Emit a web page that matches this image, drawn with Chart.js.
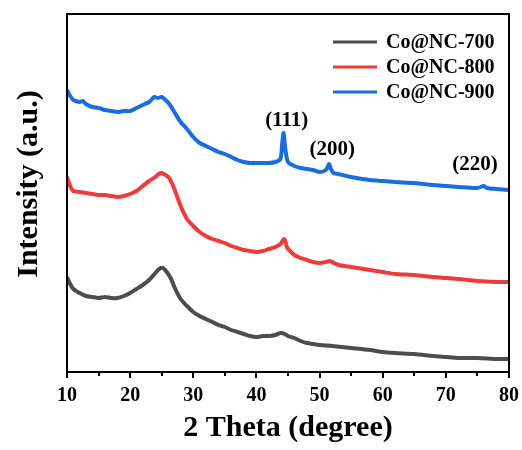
<!DOCTYPE html>
<html>
<head>
<meta charset="utf-8">
<script src="https://cdn.jsdelivr.net/npm/chart.js@4.4.0/dist/chart.umd.min.js"></script>
<style>
  html, body { margin: 0; padding: 0; background: #fff; }
  #wrap { width: 522px; height: 450px; position: relative; }
</style>
</head>
<body>
<div id="wrap"><canvas id="xrd" width="522" height="450"></canvas></div>
<script>
// Data (2 theta, intensity in a.u., curves stacked with offsets)
const seriesNames = ['Co@NC-700', 'Co@NC-800', 'Co@NC-900'];
const seriesColors = ['#4d4d4d', '#ee3b3b', '#1a6ddf'];
const xTickLabels = [10, 20, 30, 40, 50, 60, 70, 80];

const theta700 = [10, 10.5, 11, 12, 13, 14, 15, 16, 17, 18, 19, 20, 21, 22, 23, 24, 24.6, 25.2, 25.8, 26.5, 27, 28, 29, 30, 31, 32, 33, 34, 35, 36, 37, 38, 39, 40, 41, 42, 43, 43.8, 44.5, 45, 46, 47, 48, 50, 52, 55, 58, 60, 62, 65, 68, 70, 72, 75, 78, 80];
const int700 = [95, 88, 83, 79, 76, 75, 74, 75, 74, 74, 76, 79, 83, 87, 92, 99, 103, 104, 100, 93, 85, 73, 66, 60, 56, 53, 50, 47, 45, 42, 40, 38, 36, 35, 36, 36, 37, 39, 38, 36, 34, 31, 29, 27, 26, 24, 22, 20, 19, 18, 16, 15, 14, 14, 13, 13];

const theta800 = [10, 10.5, 11, 12, 13, 14, 15, 16, 17, 18, 19, 20, 21, 22, 23, 24, 24.5, 25, 25.6, 26.2, 27, 28, 29, 30, 31, 32, 33, 34, 35, 36, 37, 38, 39, 40, 41, 42, 43, 43.8, 44.4, 44.9, 45.5, 46, 47, 48, 49, 50, 51, 51.6, 52.3, 53, 55, 58, 60, 62, 65, 68, 70, 72, 75, 78, 80];
const int800 = [195, 186, 181, 180, 179, 178, 177, 177, 176, 175, 176, 178, 181, 186, 191, 195, 198, 199, 197, 194, 183, 166, 153, 146, 140, 136, 133, 131, 129, 126, 124, 122, 121, 120, 121, 123, 125, 128, 133, 124, 120, 117, 114, 112, 110, 109, 110, 111, 109, 107, 105, 102, 100, 98, 97, 95, 94, 93, 91, 90, 90];

const theta900 = [10, 10.5, 11, 12, 12.5, 13, 14, 15, 16, 17, 18, 19, 20, 21, 22, 23, 23.8, 24.4, 25, 25.6, 26.2, 27, 28, 29, 30, 31, 32, 33, 34, 35, 36, 37, 38, 39, 40, 41, 42, 43, 43.8, 44.1, 44.3, 44.6, 45, 46, 47, 48, 49, 50, 51, 51.5, 51.8, 52.2, 53, 55, 58, 60, 62, 65, 68, 70, 72, 75, 76, 76.5, 78, 80];
const int900 = [282, 276, 272, 270, 271, 268, 265, 264, 262, 261, 260, 261, 261, 264, 267, 270, 275, 274, 275, 272, 268, 260, 250, 243, 235, 229, 226, 223, 220, 218, 215, 212, 210, 209, 209, 209, 209, 210, 213, 230, 239, 222, 210, 206, 204, 203, 202, 200, 202, 208, 203, 199, 198, 195, 192, 191, 190, 189, 187, 186, 185, 184, 186, 184, 183, 182];

const peakLabels = ['(111)', '(200)', '(220)'];
const peakTheta = [44.8, 52.0, 74.6];
const peakIntensity = [251, 222, 207];

const serif = "'Liberation Serif', 'Times New Roman', serif";

function toPoints(xs, ys) {
    return xs.map((x, i) => ({ x: x, y: ys[i] }));
}

// frame, minor ticks, y title, peak labels, legend
const decorPlugin = {
    id: 'decor',
    afterDraw(chart) {
        const ctx = chart.ctx;
        const area = chart.chartArea;
        const xs = chart.scales.x;
        const ys = chart.scales.y;
        ctx.save();
        ctx.strokeStyle = '#000';
        ctx.lineWidth = 2;
        ctx.strokeRect(area.left, area.top, area.right - area.left, area.bottom - area.top);

        // ticks below the bottom axis
        for (let v = 10; v <= 80; v += 5) {
            const px = Math.round(xs.getPixelForValue(v));
            const len = (v % 10 === 0) ? 6 : 4;
            ctx.beginPath();
            ctx.moveTo(px, area.bottom);
            ctx.lineTo(px, area.bottom + len);
            ctx.stroke();
        }

        // y axis title
        ctx.fillStyle = '#000';
        ctx.font = 'bold 30px ' + serif;
        ctx.textAlign = 'center';
        ctx.textBaseline = 'middle';
        ctx.save();
        ctx.translate(29, 184);
        ctx.rotate(-Math.PI / 2);
        ctx.fillText('Intensity (a.u.)', 0, 0);
        ctx.restore();

        // peak labels
        ctx.font = 'bold 21px ' + serif;
        peakLabels.forEach((t, i) => {
            ctx.fillText(t, xs.getPixelForValue(peakTheta[i]), ys.getPixelForValue(peakIntensity[i]));
        });

        // legend
        ctx.font = 'bold 20px ' + serif;
        ctx.textAlign = 'left';
        seriesNames.forEach((name, i) => {
            const y = 42 + i * 25;
            ctx.strokeStyle = seriesColors[i];
            ctx.lineWidth = 3;
            ctx.beginPath();
            ctx.moveTo(333, y);
            ctx.lineTo(377, y);
            ctx.stroke();
            ctx.fillStyle = '#000';
            ctx.fillText(name, 386, y + 1);
        });
        ctx.restore();
    }
};

const allX = [theta700, theta800, theta900];
const allY = [int700, int800, int900];

new Chart(document.getElementById('xrd'), {
    type: 'line',
    data: {
        datasets: seriesNames.map((name, i) => ({
            label: name,
            data: toPoints(allX[i], allY[i]),
            borderColor: seriesColors[i],
            borderWidth: 4,
            pointRadius: 0,
            tension: 0.25,
            fill: false
        }))
    },
    options: {
        responsive: false,
        animation: false,
        layout: { padding: { top: 14, right: 13, left: 0, bottom: 0 } },
        plugins: {
            legend: { display: false },
            tooltip: { enabled: false }
        },
        scales: {
            x: {
                type: 'linear',
                min: 10,
                max: 80,
                afterBuildTicks(axis) {
                    axis.ticks = xTickLabels.map(v => ({ value: v }));
                },
                afterFit(axis) {
                    axis.height = 78;
                    axis.paddingLeft = 0;
                    axis.paddingRight = 0;
                },
                grid: { display: false, drawTicks: false },
                border: { display: false },
                ticks: {
                    padding: 12,
                    color: '#000',
                    font: { family: serif, size: 20, weight: 'bold' }
                },
                title: {
                    display: true,
                    text: '2 Theta (degree)',
                    color: '#000',
                    padding: { top: 3 },
                    font: { family: serif, size: 30, weight: 'bold' }
                }
            },
            y: {
                min: 0,
                max: 358,
                afterFit(axis) { axis.width = 67; },
                grid: { display: false, drawTicks: false },
                border: { display: false },
                ticks: { display: false },
                title: { display: false }
            }
        }
    },
    plugins: [decorPlugin]
});
</script>
</body>
</html>
